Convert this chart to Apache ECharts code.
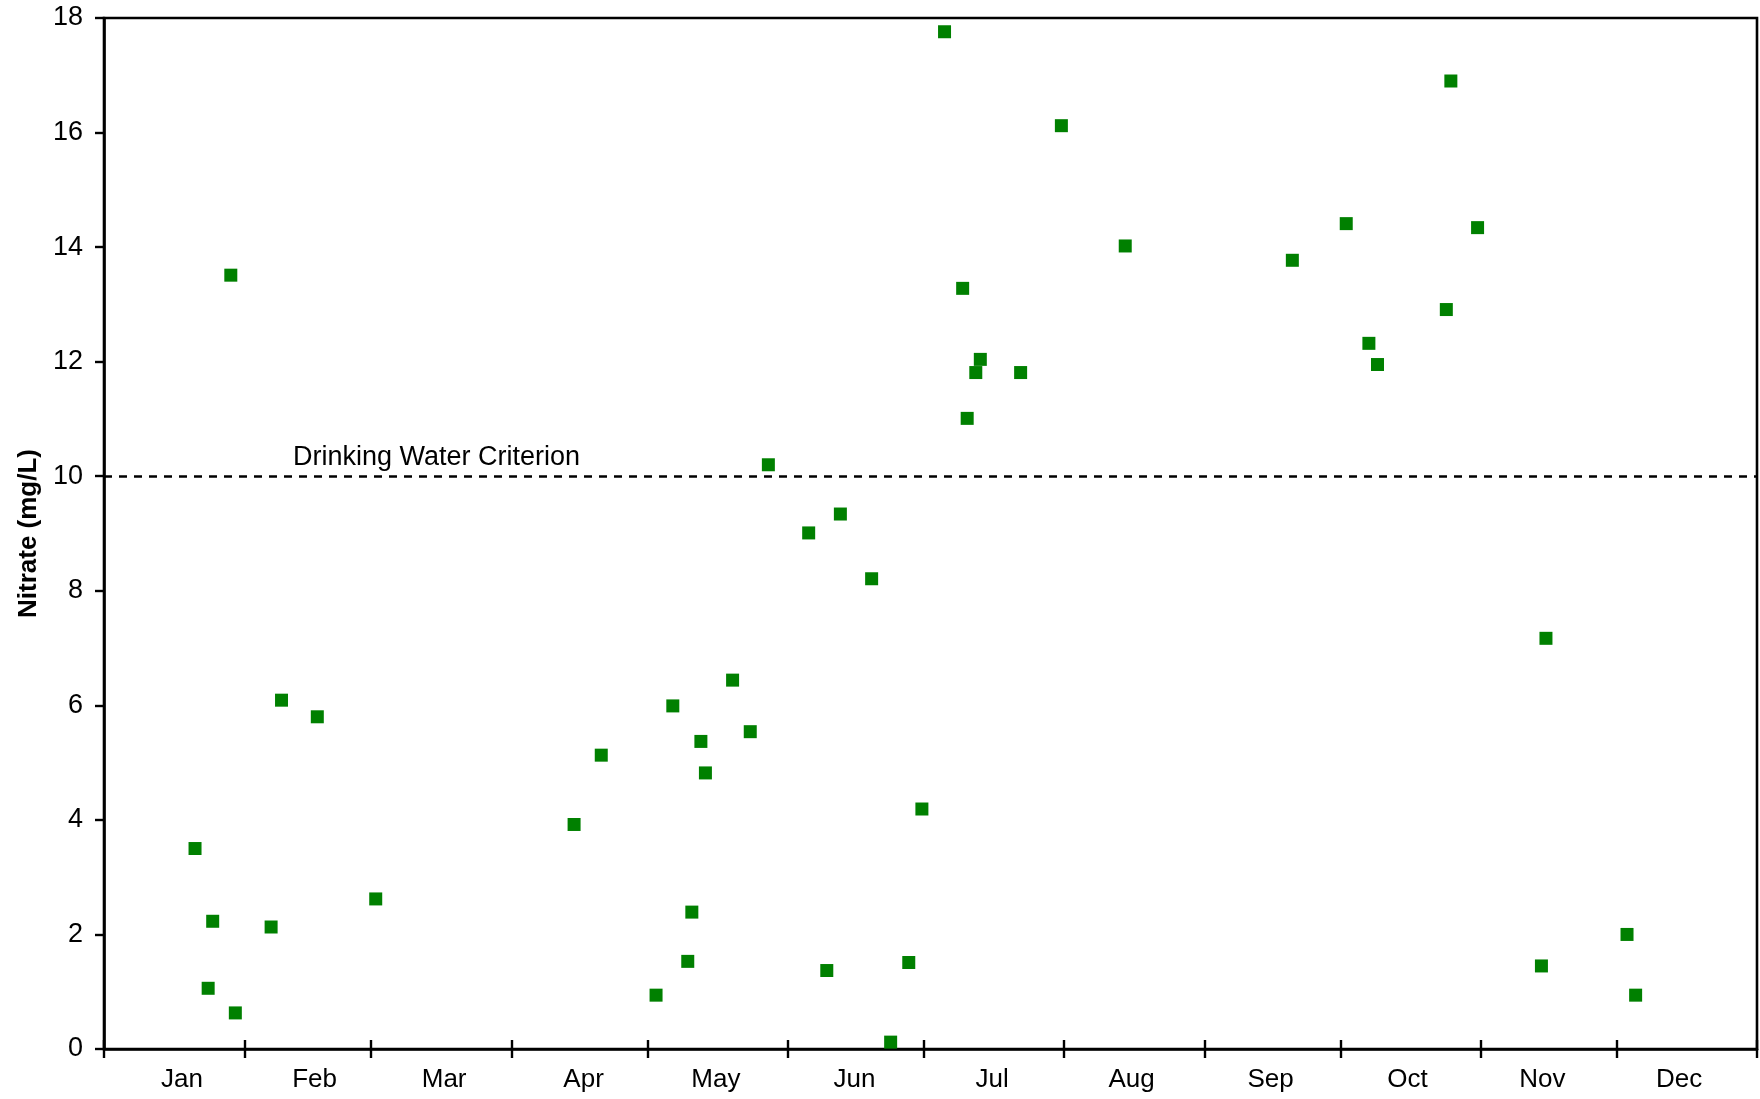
<!DOCTYPE html>
<html>
<head>
<meta charset="utf-8">
<script src="https://cdn.jsdelivr.net/npm/echarts@6/dist/echarts.min.js"></script>
<style>
html,body{margin:0;padding:0;background:#fff;}
#chart{width:1760px;height:1099px;}
</style>
</head>
<body>
<div id="chart"></div>
<script>
// Day of year (0 = Jan 1) of each sample
const sampleDays = [20.1, 23.0, 24.0, 28.0, 29.0, 36.9, 39.2, 47.1, 60.0,
  103.8, 109.8, 121.9, 125.6, 128.9, 129.8, 131.8, 132.8, 138.8, 142.7, 146.7,
  155.6, 159.6, 162.6, 169.5, 173.7, 177.7, 180.6, 185.6, 189.6, 190.6, 192.5,
  193.5, 202.4, 211.4, 225.5, 262.4, 274.3, 279.3, 281.2, 296.4, 297.4, 303.3,
  317.4, 318.4, 336.3, 338.2];
// Nitrate concentration (mg/L)
const nitrateValues = [3.50, 1.06, 2.23, 13.51, 0.63, 2.13, 6.09, 5.80, 2.62,
  3.92, 5.13, 0.94, 5.99, 1.53, 2.39, 5.37, 4.82, 6.44, 5.54, 10.20,
  9.01, 1.37, 9.34, 8.21, 0.12, 1.51, 4.19, 17.76, 13.28, 11.01, 11.81,
  12.04, 11.81, 16.12, 14.02, 13.77, 14.41, 12.32, 11.95, 12.91, 16.90, 14.34,
  1.45, 7.17, 2.00, 0.94];
const monthNames = ['Jan','Feb','Mar','Apr','May','Jun','Jul','Aug','Sep','Oct','Nov','Dec'];
// tick marks at month boundaries (day of year)
const monthStarts = [0, 31, 59, 90, 120, 151, 181, 212, 243, 273, 304, 334, 365];
// where the month labels sit (day of year)
const monthLabelDays = [17.2, 46.5, 75.1, 105.9, 135.1, 165.7, 196.1, 226.9, 257.6, 287.8, 317.6, 347.8];
const yTicks = [0, 2, 4, 6, 8, 10, 12, 14, 16, 18];
const criterionValue = 10;
const criterionLabel = 'Drinking Water Criterion';

const FONT = 'Liberation Sans, Arial, Helvetica, sans-serif';
const LW = 2.6;
const chart = echarts.init(document.getElementById('chart'), null, {renderer: 'canvas'});
chart.setOption({
  animation: false,
  backgroundColor: '#fff',
  grid: {left: 104, right: 3, top: 18, bottom: 50, show: true, borderColor: '#000', borderWidth: LW},
  xAxis: [{
    type: 'value', min: 0, max: 365, position: 'bottom',
    axisLine: {show: true, lineStyle: {color: '#000', width: LW}},
    axisTick: {show: true, inside: false, length: 9, customValues: monthStarts, lineStyle: {color: '#000', width: 2.4}},
    axisLabel: {show: true, customValues: monthLabelDays, margin: 18, fontFamily: FONT, fontSize: 26, color: '#000',
      formatter: v => monthNames[monthLabelDays.indexOf(v)] || ''},
    splitLine: {show: false}
  }, {
    type: 'value', min: 0, max: 365, position: 'bottom', offset: 0,
    axisLine: {show: false},
    axisTick: {show: true, inside: true, length: 9, customValues: monthStarts, lineStyle: {color: '#000', width: 2.4}},
    axisLabel: {show: false},
    splitLine: {show: false}
  }],
  yAxis: {
    type: 'value', min: 0, max: 18, interval: 2,
    name: 'Nitrate (mg/L)', nameLocation: 'middle', nameGap: 62, nameRotate: 90,
    nameTextStyle: {fontFamily: FONT, fontSize: 26, fontWeight: 'bold', color: '#000'},
    axisLine: {show: true, lineStyle: {color: '#000', width: LW}},
    axisTick: {show: true, inside: false, length: 9, lineStyle: {color: '#000', width: 2.4}},
    axisLabel: {margin: 21, fontFamily: FONT, fontSize: 27, color: '#000',
      formatter: v => yTicks.includes(v) ? String(v) : ''},
    splitLine: {show: false}
  },
  series: [{
    type: 'scatter',
    xAxisIndex: 0,
    symbol: 'rect',
    symbolSize: 13,
    itemStyle: {color: '#008000', opacity: 1},
    data: sampleDays.map((d, i) => [d, nitrateValues[i]]),
    markLine: {
      silent: true,
      symbol: ['none', 'none'],
      lineStyle: {color: '#000', width: 2.5, type: [8, 7], opacity: 1},
      label: {show: true, position: 'insideStartTop', distance: [189, 5], formatter: criterionLabel,
        fontFamily: FONT, fontSize: 27, color: '#000'},
      data: [{yAxis: criterionValue}]
    }
  }]
});
</script>
</body>
</html>
